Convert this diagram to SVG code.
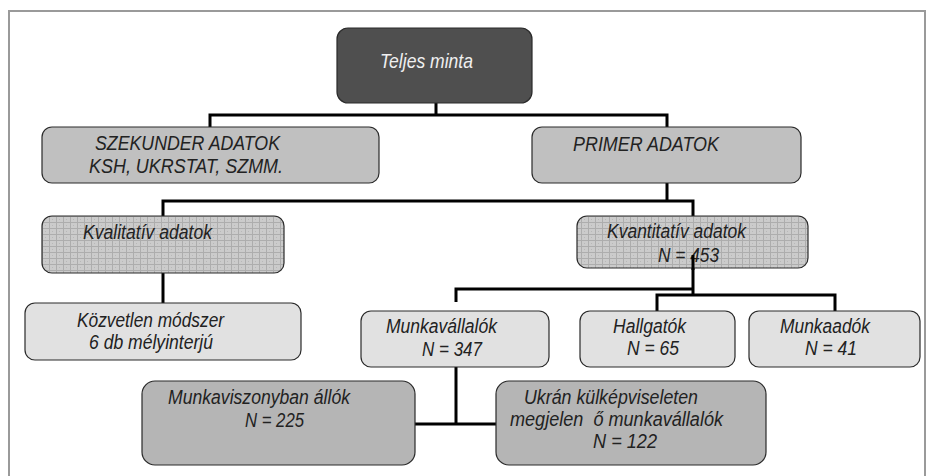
<svg xmlns="http://www.w3.org/2000/svg" width="930" height="476" viewBox="0 0 930 476">
<defs>
<pattern id="grid" width="7" height="6" patternUnits="userSpaceOnUse">
<rect width="7" height="6" fill="#cbcbcb"/>
<path d="M0 0.5H7M0.5 0V6" stroke="#adadad" stroke-width="1" fill="none"/>
<rect x="3" y="3" width="1" height="1" fill="#b8b8b8"/>
</pattern>
</defs>
<style>
.box{stroke:#2a2a2a;stroke-width:1.2}
.dark{fill:#4f4f4f}
.mid{fill:#c0c0c0}
.pat{fill:url(#grid)}
.light{fill:#e1e1e1}
.deep{fill:#b5b5b5}
text{font-family:"Liberation Sans",Arial,sans-serif;font-style:italic;font-size:19.5px;fill:#222}
.wt{fill:#f0f0f0;font-size:21px}
.conn{stroke:#000;stroke-width:3;fill:none}
</style>
<rect x="9" y="11" width="916" height="470" fill="none" stroke="#9a9a9a" stroke-width="2"/>
<g id="connectors">
<path class="conn" d="M436 103V115M210 127V115H667V127"/>
<path class="conn" d="M667 183V201M163 216V201H693V216"/>
<path class="conn" d="M163 273V303"/>
<path class="conn" d="M693 260V295M456 302V289H693M657 311V295H835V311"/>
<path class="conn" d="M456 367V424M415 424H496"/>
</g>
<g id="n_teljes">
<rect class="box dark" x="337" y="28" width="195" height="75" rx="11"/>
<text class="wt" x="380" y="68" textLength="93" lengthAdjust="spacingAndGlyphs">Teljes minta</text>
</g>
<g id="n_szekunder">
<rect class="box mid" x="42" y="127" width="337" height="56" rx="10"/>
<text x="95" y="150" textLength="185" lengthAdjust="spacingAndGlyphs">SZEKUNDER ADATOK</text>
<text x="89" y="173" textLength="194" lengthAdjust="spacingAndGlyphs">KSH, UKRSTAT, SZMM.</text>
</g>
<g id="n_primer">
<rect class="box mid" x="532" y="127" width="269" height="56" rx="10"/>
<text x="573" y="151" textLength="146" lengthAdjust="spacingAndGlyphs">PRIMER ADATOK</text>
</g>
<g id="n_kvalitativ">
<rect class="box pat" x="42" y="216" width="242" height="57" rx="10"/>
<text x="83" y="239" textLength="129" lengthAdjust="spacingAndGlyphs">Kvalitatív adatok</text>
</g>
<g id="n_kvantitativ">
<rect class="box pat" x="577" y="216" width="231" height="52" rx="10"/>
<text x="607" y="238" textLength="139" lengthAdjust="spacingAndGlyphs">Kvantitatív adatok</text>
<text x="658" y="262" textLength="61" lengthAdjust="spacingAndGlyphs">N = 453</text>
</g>
<path class="conn" d="M693 255V270"/>
<g id="n_kozvetlen">
<rect class="box light" x="25" y="303" width="276" height="57" rx="10"/>
<text x="77" y="327" textLength="147" lengthAdjust="spacingAndGlyphs">Közvetlen módszer</text>
<text x="89" y="349" textLength="124" lengthAdjust="spacingAndGlyphs">6 db mélyinterjú</text>
</g>
<g id="n_munkavallalok">
<rect class="box light" x="361" y="311" width="188" height="56" rx="10"/>
<text x="386" y="333" textLength="111" lengthAdjust="spacingAndGlyphs">Munkavállalók</text>
<text x="422" y="356" textLength="60" lengthAdjust="spacingAndGlyphs">N = 347</text>
</g>
<g id="n_hallgatok">
<rect class="box light" x="580" y="311" width="155" height="56" rx="10"/>
<text x="613" y="333" textLength="73" lengthAdjust="spacingAndGlyphs">Hallgatók</text>
<text x="627" y="355" textLength="52" lengthAdjust="spacingAndGlyphs">N = 65</text>
</g>
<g id="n_munkaadok">
<rect class="box light" x="749" y="311" width="171" height="56" rx="10"/>
<text x="780" y="333" textLength="90" lengthAdjust="spacingAndGlyphs">Munkaadók</text>
<text x="805" y="355" textLength="52" lengthAdjust="spacingAndGlyphs">N = 41</text>
</g>
<g id="n_munkaviszony">
<rect class="box deep" x="142" y="381" width="273" height="84" rx="13"/>
<text x="168" y="404" textLength="182" lengthAdjust="spacingAndGlyphs">Munkaviszonyban állók</text>
<text x="245" y="427" textLength="59" lengthAdjust="spacingAndGlyphs">N = 225</text>
</g>
<g id="n_ukran">
<rect class="box deep" x="496" y="381" width="270" height="84" rx="13"/>
<text x="524" y="404" textLength="174" lengthAdjust="spacingAndGlyphs">Ukrán külképviseleten</text>
<text x="510" y="426" textLength="213" lengthAdjust="spacingAndGlyphs" xml:space="preserve">megjelen  ő munkavállalók</text>
<text x="593" y="448" textLength="64" lengthAdjust="spacingAndGlyphs">N = 122</text>
</g>
</svg>
